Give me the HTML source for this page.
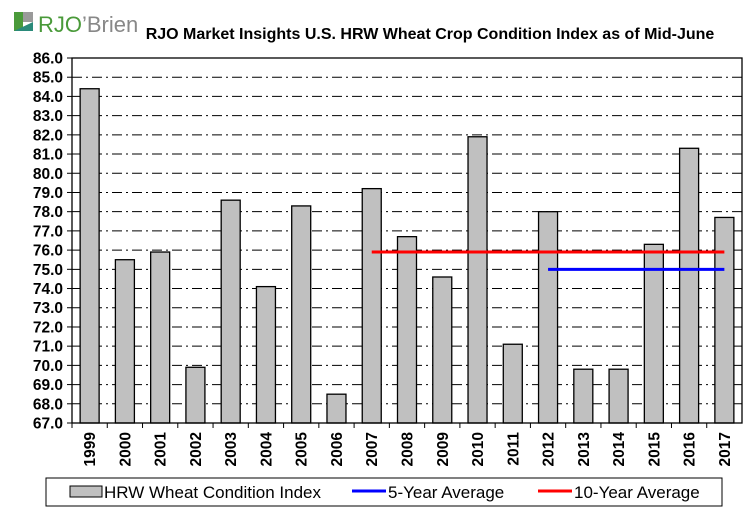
<!DOCTYPE html>
<html><head><meta charset="utf-8"><style>
body{margin:0;background:#fff;width:756px;height:516px;overflow:hidden;font-family:"Liberation Sans",Arial,sans-serif}
</style></head><body>
<svg id="c" width="756" height="516" xmlns="http://www.w3.org/2000/svg">
<g>
<rect x="14" y="12" width="9" height="19" fill="#4a9a3a"/>
<rect x="23" y="12" width="10" height="10" fill="#9a9a9a"/>
<polygon points="14,31 33,22 33,31" fill="#2a8a7a"/>
<text x="38" y="32" font-size="22" fill="#4a9a3a" font-family="Liberation Sans,sans-serif">RJO</text>
<text x="82" y="32" font-size="22" fill="#888" font-family="Liberation Sans,sans-serif">’Brien</text>
</g>
<text x="430" y="39" text-anchor="middle" font-size="16" font-weight="bold">RJO Market Insights U.S. HRW Wheat Crop Condition Index as of Mid-June</text>
<g id="grid"></g><g id="bars"></g><g id="axes"></g>
<g>
<rect x="46" y="478" width="676" height="28" fill="#fff" stroke="#000"/>
<rect x="70" y="486" width="32" height="11" fill="#c0c0c0" stroke="#000"/>
<text x="104" y="498" font-size="17">HRW Wheat Condition Index</text>
<line x1="352" y1="491" x2="386" y2="491" stroke="#0000ff" stroke-width="3"/>
<text x="388" y="498" font-size="17">5-Year Average</text>
<line x1="538" y1="491" x2="572" y2="491" stroke="#ff0000" stroke-width="3"/>
<text x="574" y="498" font-size="17">10-Year Average</text>
</g>
</svg>
<script>
const years=["1999","2000","2001","2002","2003","2004","2005","2006","2007","2008","2009","2010","2011","2012","2013","2014","2015","2016","2017"];
const values=[84.4,75.5,75.9,69.9,78.6,74.1,78.3,68.5,79.2,76.7,74.6,81.9,71.1,78.0,69.8,69.8,76.3,81.3,77.7];
const avg5=75.0, avg5Start="2012", avg5End="2017";
const avg10=75.9, avg10Start="2007", avg10End="2017";
const yTicks=[67,68,69,70,71,72,73,74,75,76,77,78,79,80,81,82,83,84,85,86];
const NS="http://www.w3.org/2000/svg";
const L=72,R=742,T=58,B=423,ymin=67,ymax=86;
const bw=(R-L)/years.length;
const y=v=>B-(v-ymin)/(ymax-ymin)*(B-T);
const xc=i=>L+bw*(i+0.5);
function mk(p,t,a){const e=document.createElementNS(NS,t);for(const k in a)e.setAttribute(k,a[k]);document.getElementById(p).appendChild(e);return e;}
yTicks.forEach(v=>{
 if(v>ymin&&v<ymax){const g=mk('grid','line',{x1:L,x2:R,y1:y(v),y2:y(v),stroke:'#000','stroke-dasharray':'10,4,2,4'});
 
 }
 mk('axes','line',{x1:L-5,x2:L,y1:y(v),y2:y(v),stroke:'#000'});
 const t=mk('axes','text',{x:L-9,y:y(v)+5.5,'text-anchor':'end','font-size':15.5,'font-weight':'bold'});
 t.textContent=v.toFixed(1);
 
 
});
values.forEach((v,i)=>{
 const r=mk('bars','rect',{x:xc(i)-9.5,y:y(v),width:19,height:B-y(v),fill:'#c0c0c0',stroke:'#000','stroke-width':1.3});
 
 
 mk('axes','line',{x1:L+bw*i,x2:L+bw*i,y1:B,y2:B+5,stroke:'#000'});
 const t=mk('axes','text',{x:0,y:0,'font-size':15.5,'font-weight':'bold','text-anchor':'end',transform:`translate(${xc(i)+5.5},${B+9}) rotate(-90)`});
 t.textContent=years[i];
 
 
});
mk('axes','rect',{x:L,y:T,width:R-L,height:B-T,fill:'none',stroke:'#000','stroke-width':1.3});
const l10=mk('axes','line',{x1:xc(years.indexOf(avg10Start)),x2:xc(years.indexOf(avg10End)),y1:y(avg10),y2:y(avg10),stroke:'#ff0000','stroke-width':3});


const l5=mk('axes','line',{x1:xc(years.indexOf(avg5Start)),x2:xc(years.indexOf(avg5End)),y1:y(avg5),y2:y(avg5),stroke:'#0000ff','stroke-width':3});


</script>
</body></html>
